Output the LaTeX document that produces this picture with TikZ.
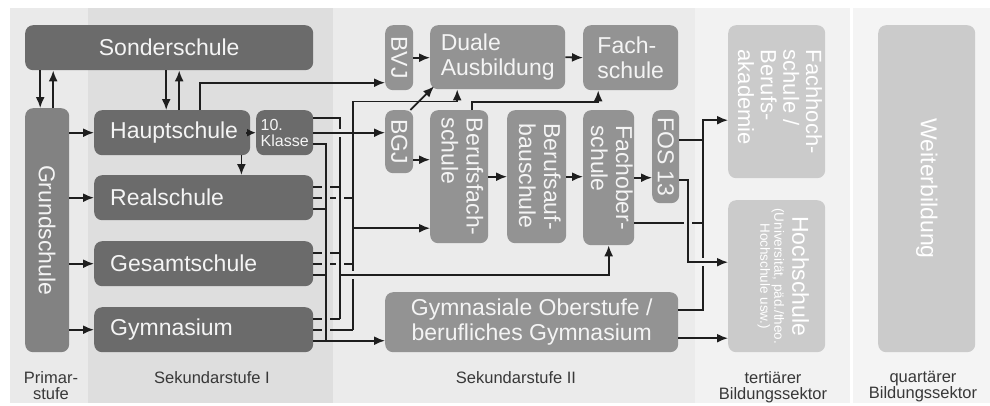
\documentclass[tikz,border=0pt]{standalone}
\usepackage{fontspec}
\setmainfont{Liberation Sans}
\usepackage{graphicx}
\usetikzlibrary{arrows.meta}

\definecolor{primbg}{HTML}{EAEAEA}
\definecolor{sekIbg}{HTML}{DEDEDE}
\definecolor{sekIIbg}{HTML}{EBEBEB}
\definecolor{tertbg}{HTML}{F2F2F2}
\definecolor{quartbg}{HTML}{F4F4F4}
\definecolor{darkfill}{HTML}{6B6B6B}
\definecolor{grundfill}{HTML}{828282}
\definecolor{midfill}{HTML}{939393}
\definecolor{lightfill}{HTML}{CBCBCB}
\definecolor{wirecol}{HTML}{1E1E1E}
\definecolor{boxtext}{HTML}{F4F4F4}
\definecolor{sectortext}{HTML}{383838}

% vertical text, lines read top to bottom
\newcommand{\vtxt}[1]{\rotatebox{-90}{\begin{tabular}{@{}l@{}}#1\end{tabular}}}

\tikzset{
  schoolbox/.style={anchor=north west, rounded corners=8pt, inner sep=0pt,
    text=boxtext, align=left, font=\fontsize{23}{25}\selectfont},
  lowerbox/.style={schoolbox, fill=darkfill},
  upperbox/.style={schoolbox, fill=midfill},
  highbox/.style={schoolbox, fill=lightfill, text=white},
  leftbox/.style={lowerbox, inner xsep=16pt, minimum height=45pt, text width=#1},
  wire/.style={draw=wirecol, line width=1.8pt},
  arr/.style={wire, -{Latex[length=11pt,width=9pt]}},
  hop/.style={draw=#1, line width=5pt},
  sector/.style={anchor=north, inner sep=0pt, align=center, text=sectortext,
    font=\fontsize{16.5}{16}\selectfont},
}

\begin{document}
\begin{tikzpicture}[x=1pt, y=-1pt]
\useasboundingbox (0,0) rectangle (990,405);
\fill[white] (0,0) rectangle (990,405);

% sectors
\fill[primbg] (10,8) rectangle (88,403);
\fill[sekIbg] (88,8) rectangle (333,403);
\fill[sekIIbg] (333,8) rectangle (695,403);
\fill[tertbg] (695,8) rectangle (850,403);
\fill[quartbg] (853,8) rectangle (990,403);

\node[sector] (lprim) at (51,371) {Primar-\\stufe};
\node[sector] (lsekI) at (212,371) {Sekundarstufe I};
\node[sector] (lsekII) at (516,371) {Sekundarstufe II};
\node[sector] (ltert) at (773,371) {tertiärer\\Bildungssektor};
\node[sector] (lquart) at (923,371) {quartärer\\Bildungssektor};

% Primarstufe / Sekundarstufe I
\node[lowerbox, minimum width=288pt, minimum height=45pt, align=center] (sonder) at (25,25) {Sonderschule};
\node[schoolbox, fill=grundfill, minimum width=44pt, minimum height=244pt] (grund) at (25,108) {\rotatebox{-90}{Grundschule}};
\node[leftbox=124pt] (haupt) at (94,110) {Hauptschule};
\node[lowerbox, minimum width=57pt, minimum height=45pt, font=\fontsize{16}{16}\selectfont] (klasse) at (256,110) {10.\\Klasse};
\node[leftbox=187pt] (real) at (94,175) {Realschule};
\node[leftbox=187pt] (gesamt) at (94,241) {Gesamtschule};
\node[leftbox=187pt] (gym) at (94,307) {Gymnasium};

% Sekundarstufe II
\node[upperbox, minimum width=28pt, minimum height=65pt] (bvj) at (385,25) {\rotatebox{-90}{BVJ}};
\node[upperbox, minimum width=135pt, minimum height=64pt] (duale) at (430,25) {Duale\\Ausbildung};
\node[upperbox, minimum width=95pt, minimum height=65pt] (fachsch) at (583,25) {Fach-\\schule};
\node[upperbox, minimum width=28pt, minimum height=63pt] (bgj) at (385,110) {\rotatebox{-90}{BGJ}};
\node[upperbox, minimum width=58pt, minimum height=133pt] (berufsfach) at (430,110) {\vtxt{Berufsfach-\\schule}};
\node[upperbox, minimum width=59pt, minimum height=133pt] (berufsauf) at (507,110) {\vtxt{Berufsauf-\\bauschule}};
\node[upperbox, minimum width=51pt, minimum height=135pt] (fachober) at (583,110) {\vtxt{Fachober-\\schule}};
\node[upperbox, minimum width=27pt, minimum height=93pt] (fos) at (652,110) {\rotatebox{-90}{FOS 13}};
\node[upperbox, minimum width=293pt, minimum height=60pt, align=center] (oberstufe) at (385,292) {Gymnasiale Oberstufe /\\berufliches Gymnasium};

% tertiaer / quartaer
\node[highbox, minimum width=97pt, minimum height=153pt, font=\fontsize{22}{22.5}\selectfont] (fh) at (728,25) {\vtxt{Fachhoch-\\schule /\\Berufs-\\akademie}};
\node[highbox, minimum width=97pt, minimum height=152pt] (hoch) at (728,200) {\rotatebox{-90}{\fontsize{13.5}{14}\selectfont\begin{tabular}{@{}c@{}}{\fontsize{23}{25}\selectfont Hochschule}\\[4pt](Universität, päd./theo.\\Hochschule usw.)\\[12pt]\end{tabular}}};
\node[highbox, minimum width=97pt, minimum height=327pt] (weiter) at (878,25) {\rotatebox{-90}{Weiterbildung}};

% Grundschule -> Sekundarstufe I
\foreach \sch in {haupt,real,gesamt,gym}
  \draw[arr] (grund.east |- \sch.west) -- (\sch.west);

% Sonderschule
\draw[arr] ([xshift=-7pt]grund.north |- sonder.south) -- ([xshift=-7pt]grund.north);
\draw[arr] ([xshift=6pt]grund.north) -- ([xshift=6pt]grund.north |- sonder.south);
\draw[arr] ([xshift=-6pt]haupt.north |- sonder.south) -- ([xshift=-6pt]haupt.north);
\draw[arr] ([xshift=7pt]haupt.north) -- ([xshift=7pt]haupt.north |- sonder.south);

% Hauptschule
\draw[wire, -{Latex[length=9pt,width=8pt]}] ([xshift=-4pt]haupt.east) -- (klasse.west);
\draw[arr] ([xshift=-9pt]haupt.south east) -- ([xshift=-9pt]haupt.south east |- real.north);
\draw[arr] ([xshift=28pt]haupt.north) |- ([yshift=-25pt]bvj.west);

% exits of Sek I onto three lines
\coordinate (busA) at (326,0);
\coordinate (busB) at (340,0);
\coordinate (busC) at (353,0);
\foreach \sch in {real,gesamt,gym} {
  \coordinate (\sch B) at ([yshift=11pt]\sch.east);
  \coordinate (\sch C) at (\sch.east);
  \coordinate (\sch A) at ([yshift=-11pt]\sch.east);
  \draw[wire] (\sch B) -- (\sch B -| busB);
  \draw[wire] (\sch C) -- (\sch C -| busC);
  \draw[hop=sekIbg] (\sch B -| busA) ++(-4,0) -- ++(8,0);
  \draw[hop=sekIbg] (\sch C -| busA) ++(-4,0) -- ++(8,0);
}
\foreach \sch in {real,gesamt} {
  \draw[wire] (\sch A) -- (\sch A -| busA);
  \draw[hop=sekIIbg] (\sch C -| busB) ++(-4,0) -- ++(8,0);
}
\draw[wire] ([yshift=14.5pt]klasse.east) -| (gymB -| busB);
\draw[wire] ([yshift=-11.5pt]klasse.east) -| (gymA -| busA);
\draw[arr] (gymA) -- (gymA -| oberstufe.west);
\draw[arr] (gymC -| busC) |- ([xshift=-40.5pt,yshift=-12pt]duale.south) -- ([xshift=-40.5pt]duale.south);
\draw[arr] ([yshift=-51.5pt]berufsfach.west -| busC) -- ([yshift=-51.5pt]berufsfach.west);
\draw[hop=sekIIbg] (klasse.east -| busB) ++(0,-4) -- ++(0,8);
\draw[arr] (klasse.east) -- (klasse.east -| bgj.west);
\draw[hop=sekIIbg] (gesamtA -| busC) ++(0,-4) -- ++(0,8);
\draw[arr] (gesamtA -| busB) -| (fachober.south);

% Sekundarstufe II
\draw[arr] (bvj.east) -- (bvj.east -| duale.west);
\draw[arr] (duale.east) -- (fachsch.west);
\draw[arr] ([xshift=-3pt]bgj.north east) -- ([xshift=4pt,yshift=3pt]duale.south west);
\draw[arr] ([yshift=-18pt]bgj.east) -- ([yshift=-18pt]bgj.east -| berufsfach.west);
\draw[arr] (berufsfach.east) -- (berufsauf.west);
\draw[arr] (berufsauf.east) -- (berufsauf.east -| fachober.west);
\draw[arr] (fachober.east) -- (fachober.east -| fos.west);
\draw[arr] ([xshift=13pt]berufsfach.north) -- ++(0,-8) -| ([xshift=-32.5pt]fachsch.south);

% into the tertiary sector
\coordinate (busE) at (688,0);
\coordinate (busD) at (703,0);
\draw[arr] ([yshift=12pt]oberstufe.east) -| ([yshift=-18.5pt]fh.west -| busD) -- ([yshift=-18.5pt]fh.west);
\draw[wire] ([yshift=16.5pt]fos.east) -- ([yshift=16.5pt]fos.east -| busD);
\draw[wire] ([yshift=-45.5pt]fachober.east) -- ([yshift=-45.5pt]fachober.east -| busD);
\draw[hop=sekIIbg] ([yshift=-45.5pt]fachober.east -| busE) ++(-4,0) -- ++(8,0);
\draw[hop=tertbg] ([yshift=14pt]hoch.west -| busD) ++(0,-4) -- ++(0,8);
\draw[arr] ([yshift=-23.5pt]fos.east) -| ([yshift=14pt]hoch.west -| busE) -- ([yshift=14pt]hoch.west);
\draw[arr] ([yshift=-16pt]oberstufe.east) -- ([yshift=-16pt]oberstufe.east -| hoch.west);
\end{tikzpicture}
\end{document}
